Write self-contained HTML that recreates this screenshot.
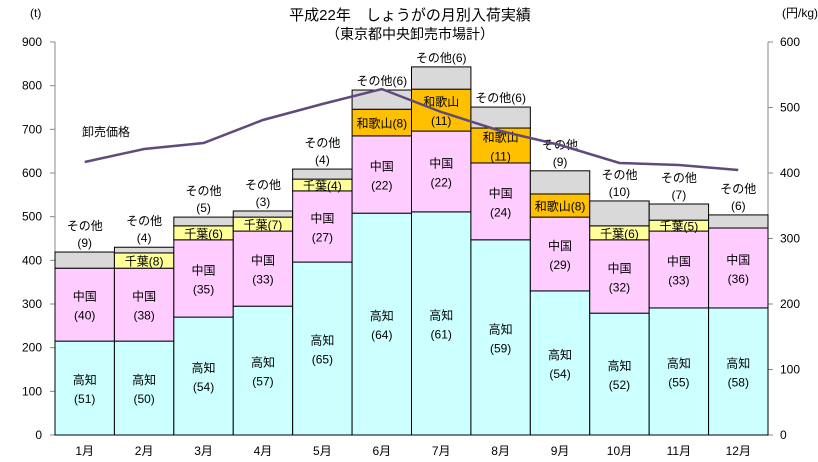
<!DOCTYPE html>
<html><head><meta charset="utf-8"><style>body{margin:0;background:#fff}svg{display:block}text{font-family:"Liberation Sans","Noto Sans CJK JP",sans-serif;fill:#000}</style></head><body>
<svg width="818" height="462" viewBox="0 0 818 462" xmlns="http://www.w3.org/2000/svg">
<text x="410" y="20" font-size="15" text-anchor="middle">平成22年　しょうがの月別入荷実績</text>
<text x="410" y="39" font-size="14" text-anchor="middle">（東京都中央卸売市場計）</text>
<text x="30" y="17" font-size="12">(t)</text>
<text x="782" y="17" font-size="12">(円/kg)</text>
<g font-size="12" text-anchor="end" id="ly"></g>
<g id="chart"></g>
<script>
var s=document.querySelector('svg'),ns='http://www.w3.org/2000/svg';
function el(t,a,txt){var e=document.createElementNS(ns,t);for(var k in a)e.setAttribute(k,a[k]);if(txt!=null)e.textContent=txt;s.appendChild(e);return e;}
var L=55,R=768,Y0=435,k=393/900,W=(R-L)/12;
el('line',{x1:L,y1:42,x2:L,y2:Y0,stroke:'#888'});el('line',{x1:R,y1:42,x2:R,y2:Y0,stroke:'#888'});
el('line',{x1:L,y1:Y0,x2:R,y2:Y0,stroke:'#888'});
for(var v=0;v<=900;v+=100){var y=Y0-v*k;el('line',{x1:L-5,y1:y,x2:L,y2:y,stroke:'#888'});el('text',{x:42,y:y+4,'font-size':12,'text-anchor':'end'},v);}
for(var v=0;v<=600;v+=100){var y=Y0-v*393/600;el('line',{x1:R,y1:y,x2:R+5,y2:y,stroke:'#888'});el('text',{x:780,y:y+4,'font-size':12},v);}
var d=[[215,382,0,0,419,51,40,0,0,9],[215,382,417,0,430,50,38,8,0,4],[270,447,479,0,499,54,35,6,0,5],[295,467,499,0,513,57,33,7,0,3],[396,559,586,0,609,65,27,4,0,4],[508,685,0,746,790,64,22,0,8,6],[511,696,0,792,843,61,22,0,11,6],[447,623,0,703,751,59,24,0,11,6],[330,499,0,552,605,54,29,0,8,9],[279,447,479,0,536,52,32,6,0,10],[291,467,492,0,529,55,33,5,0,7],[291,474,0,0,504,58,36,0,0,6]];
function yy(v){return Y0-v*k;}
d.forEach(function(r,i){var x=L+i*W,cx=x+W/2;
 var segs=[[0,r[0],'#ccffff'],[r[0],r[1],'#ffccff']],top=r[1];
 if(r[2]){segs.push([top,r[2],'#ffff99']);top=r[2];}
 if(r[3]){segs.push([top,r[3],'#ffc000']);top=r[3];}
 segs.push([top,r[4],'#d9d9d9']);
 segs.forEach(function(g){el('rect',{x:x,y:yy(g[1]),width:W,height:yy(g[0])-yy(g[1]),fill:g[2],stroke:'#000','stroke-width':1});});
 var m=(yy(0)+yy(r[0]))/2;el('text',{x:cx,y:m-4,'font-size':12,'text-anchor':'middle'},'高知');el('text',{x:cx,y:m+15,'font-size':12,'text-anchor':'middle'},'('+r[5]+')');
 m=(yy(r[0])+yy(r[1]))/2;el('text',{x:cx,y:m-4,'font-size':12,'text-anchor':'middle'},'中国');el('text',{x:cx,y:m+15,'font-size':12,'text-anchor':'middle'},'('+r[6]+')');
 if(r[2]){m=(yy(r[1])+yy(r[2]))/2;el('text',{x:cx,y:m+5,'font-size':12,'text-anchor':'middle'},'千葉('+r[7]+')');}
 if(r[3]){m=(yy(r[1])+yy(r[3]))/2;if(i==6||i==7){el('text',{x:cx,y:m-4,'font-size':12,'text-anchor':'middle'},'和歌山');el('text',{x:cx,y:m+15,'font-size':12,'text-anchor':'middle'},'('+r[8]+')');}else el('text',{x:cx,y:m+5,'font-size':12,'text-anchor':'middle'},'和歌山('+r[8]+')');}
 var t=yy(r[4]);
 if(i>=5&&i<=7)el('text',{x:cx,y:t-5,'font-size':12,'text-anchor':'middle'},'その他('+r[9]+')');
 else{el('text',{x:cx,y:t-22,'font-size':12,'text-anchor':'middle'},'その他');el('text',{x:cx,y:t-5,'font-size':12,'text-anchor':'middle'},'('+r[9]+')');}
 el('text',{x:cx,y:455,'font-size':12,'text-anchor':'middle'},(i+1)+'月');
});
var py=[162,149,143,120,104,89,112,131,145,163,165,170],pts=py.map(function(y,i){return (L+i*W+W/2)+','+y;}).join(' ');
el('polyline',{points:pts,fill:'none',stroke:'#604a7b','stroke-width':2.5});
el('text',{x:82,y:136,'font-size':12},'卸売価格');
</script>
</svg></body></html>
